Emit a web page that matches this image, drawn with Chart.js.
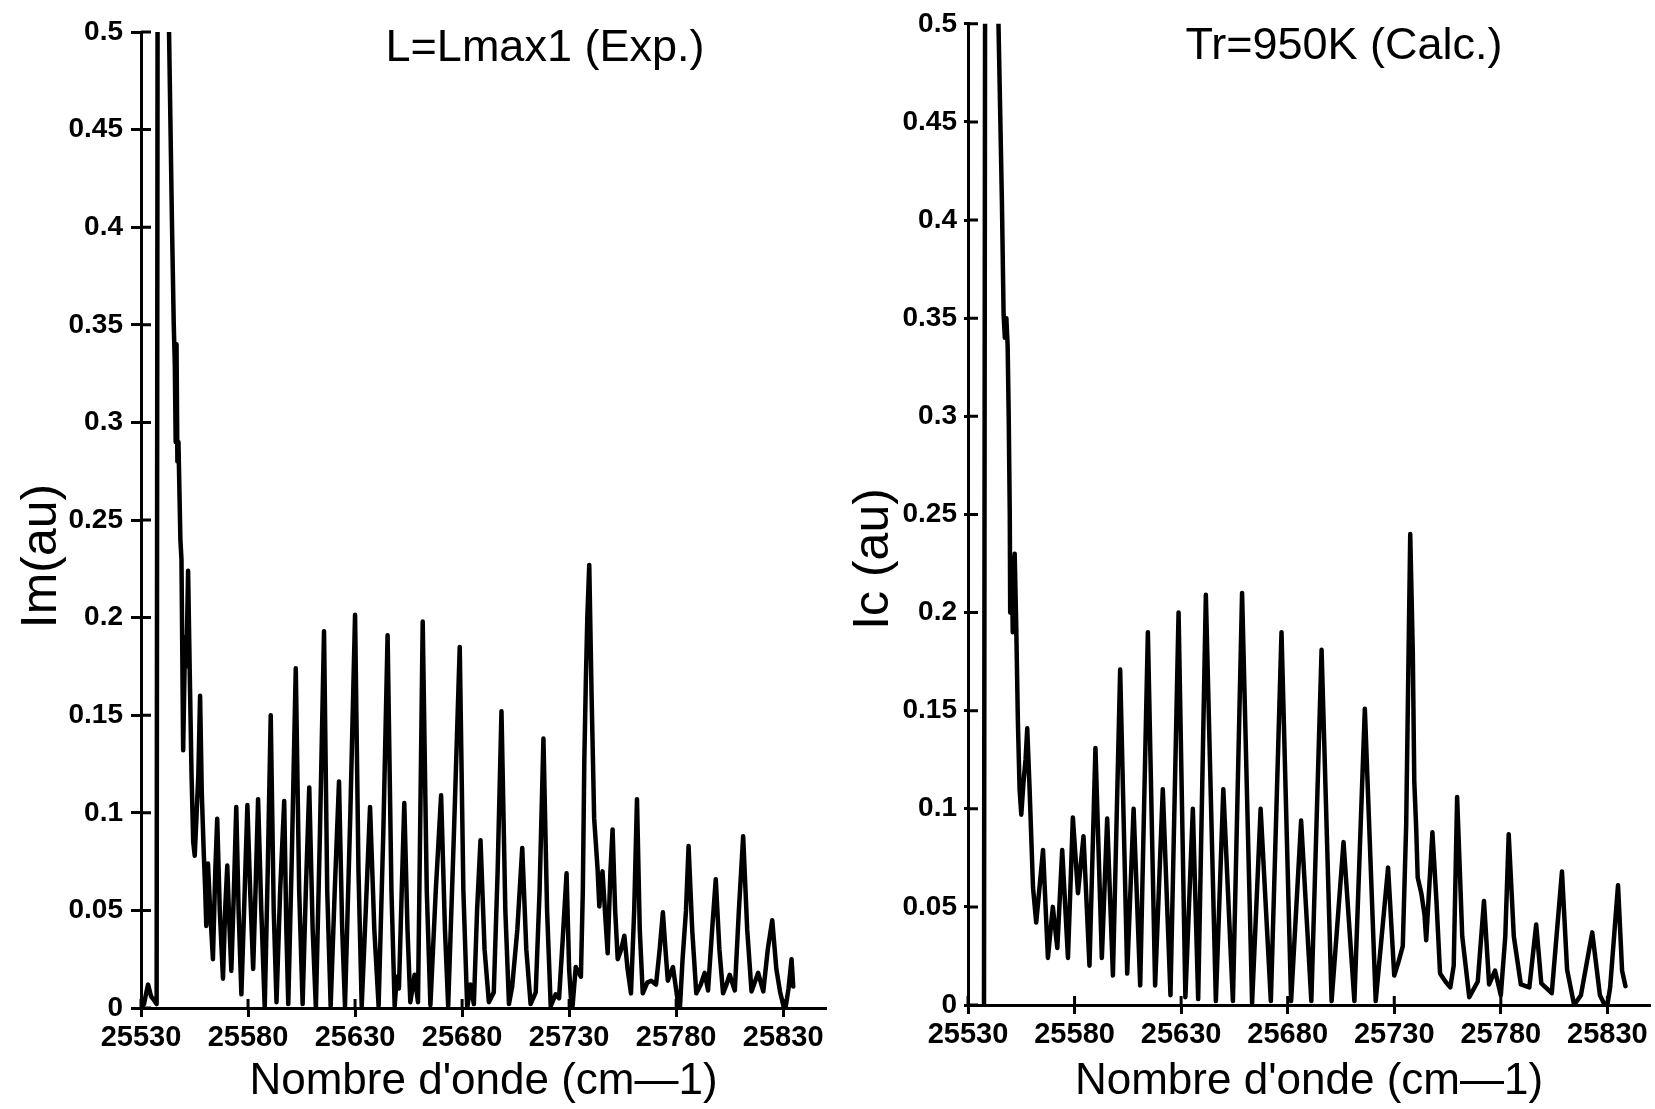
<!DOCTYPE html>
<html>
<head>
<meta charset="utf-8">
<script src="https://cdn.jsdelivr.net/npm/chart.js@4.4.1/dist/chart.umd.min.js"></script>
<style>
  html, body { margin: 0; padding: 0; background: #fff; }
  #wrap { position: relative; width: 1655px; height: 1109px; }
  canvas { position: absolute; top: 0; }
  #left { left: 0; }
  #right { left: 830px; }
</style>
</head>
<body>
<div id="wrap">
  <canvas id="left" width="830" height="1109"></canvas>
  <canvas id="right" width="825" height="1109"></canvas>
</div>
<script>
// tick values
const waveTicks = [25530, 25580, 25630, 25680, 25730, 25780, 25830];
const intensTicks = [0, 0.05, 0.1, 0.15, 0.2, 0.25, 0.3, 0.35, 0.4, 0.45, 0.5];

// L=Lmax1 (Exp.) - wavenumber (cm-1) and intensity Im (au)
const waveExp = [
  25530.0, 25531.4, 25532.5, 25533.3, 25534.7, 25536.1, 25537.3, 25538.0, 25542.6, 25543.1,
  25544.5, 25545.3, 25545.8, 25546.2, 25546.6, 25547.0, 25547.5, 25548.4, 25548.9, 25549.7,
  25550.6, 25551.2, 25552.0, 25552.8, 25553.6, 25554.4, 25555.1, 25556.0, 25556.8, 25557.6,
  25558.4, 25559.3, 25560.0, 25560.5, 25561.3, 25562.3, 25563.6, 25564.7, 25565.6, 25566.8,
  25568.3, 25569.3, 25570.3, 25571.2, 25572.2, 25573.4, 25574.5, 25575.6, 25576.9, 25578.3,
  25579.7, 25581.0, 25582.4, 25583.5, 25584.7, 25586.2, 25587.8, 25589.2, 25590.6, 25592.0,
  25593.3, 25595.0, 25596.9, 25597.9, 25598.8, 25600.5, 25602.3, 25603.9, 25605.5, 25607.0,
  25608.6, 25610.2, 25611.7, 25613.6, 25615.5, 25617.0, 25618.6, 25620.5, 25622.5, 25624.0,
  25625.3, 25627.8, 25630.0, 25631.6, 25633.1, 25635.0, 25637.0, 25639.0, 25641.0, 25643.2,
  25645.2, 25647.0, 25648.5, 25649.5, 25650.5, 25651.8, 25653.0, 25654.5, 25655.8, 25657.8,
  25659.4, 25660.5, 25661.6, 25663.5, 25665.2, 25667.7, 25670.2, 25672.0, 25673.5, 25676.2,
  25678.9, 25680.6, 25682.4, 25683.9, 25685.5, 25687.0, 25688.6, 25690.5, 25692.5, 25694.8,
  25696.6, 25698.4, 25700.2, 25701.9, 25703.4, 25705.8, 25708.1, 25710.0, 25712.0, 25714.4,
  25716.2, 25718.0, 25719.7, 25721.4, 25723.7, 25725.3, 25727.0, 25728.8, 25730.0, 25731.3,
  25733.1, 25735.5, 25736.4, 25737.1, 25737.8, 25738.5, 25739.4, 25740.5, 25741.7, 25743.3,
  25744.1, 25745.0, 25745.6, 25747.0, 25748.0, 25749.3, 25750.3, 25751.5, 25752.7, 25754.3,
  25755.8, 25757.3, 25758.9, 25760.4, 25761.7, 25763.0, 25764.4, 25766.5, 25768.3, 25770.6,
  25772.3, 25773.8, 25775.0, 25776.1, 25778.5, 25781.6, 25783.0, 25784.6, 25785.8, 25787.5,
  25789.4, 25791.5, 25793.3, 25794.9, 25796.8, 25798.5, 25800.2, 25801.9, 25803.5, 25805.0,
  25807.4, 25809.3, 25811.3, 25813.2, 25815.2, 25818.3, 25820.7, 25822.8, 25824.9, 25826.8,
  25828.5, 25830.8, 25832.5, 25833.9, 25834.7
];
const intensExp = [
  0.0, 0.002, 0.008, 0.012, 0.006, 0.004, 0.002, 0.8, 0.8, 0.5,
  0.40, 0.35, 0.33, 0.29, 0.34, 0.28, 0.29, 0.24, 0.23, 0.132,
  0.19, 0.175, 0.224, 0.17, 0.12, 0.085, 0.078, 0.10, 0.12, 0.16,
  0.11, 0.08, 0.06, 0.042, 0.074, 0.05, 0.025, 0.07, 0.097, 0.05,
  0.015, 0.05, 0.073, 0.045, 0.019, 0.06, 0.103, 0.05, 0.007, 0.055,
  0.104, 0.06, 0.02, 0.06, 0.107, 0.05, 0.0, 0.07, 0.15, 0.05,
  0.003, 0.06, 0.106, 0.04, 0.002, 0.08, 0.174, 0.06, 0.002, 0.06,
  0.113, 0.04, 0.0, 0.09, 0.193, 0.06, 0.001, 0.06, 0.116, 0.04,
  0.001, 0.1, 0.2015, 0.07, 0.001, 0.05, 0.103, 0.04, 0.001, 0.09,
  0.191, 0.06, 0.001, 0.016, 0.01, 0.06, 0.105, 0.04, 0.003, 0.017,
  0.003, 0.1, 0.198, 0.06, 0.0015, 0.06, 0.109, 0.04, 0.001, 0.09,
  0.185, 0.06, 0.0, 0.012, 0.002, 0.05, 0.086, 0.03, 0.003, 0.008,
  0.07, 0.152, 0.05, 0.002, 0.011, 0.04, 0.082, 0.03, 0.002, 0.008,
  0.06, 0.138, 0.05, 0.001, 0.007, 0.005, 0.035, 0.069, 0.02, -0.003,
  0.021, 0.016, 0.06, 0.127, 0.167, 0.2, 0.227, 0.16, 0.097, 0.071,
  0.052, 0.065, 0.07, 0.045, 0.028, 0.07, 0.0915, 0.05, 0.025, 0.03,
  0.037, 0.02, 0.0075, 0.05, 0.107, 0.04, 0.0075, 0.013, 0.014, 0.012,
  0.03, 0.049, 0.03, 0.014, 0.021, -0.003, 0.025, 0.05, 0.083, 0.04,
  0.0075, 0.012, 0.018, 0.009, 0.04, 0.066, 0.03, 0.0075, 0.012, 0.017,
  0.009, 0.05, 0.088, 0.04, 0.0085, 0.018, 0.0085, 0.03, 0.045, 0.02,
  0.0085, -0.002, 0.01, 0.025, 0.011
];

// Tr=950K (Calc.) - wavenumber (cm-1) and intensity Ic (au)
const waveCalc = [
  25537.5, 25538.3, 25543.2, 25544.3, 25545.9, 25546.7, 25547.3, 25548.0, 25548.6, 25549.1,
  25549.6, 25549.8, 25550.5, 25551.0, 25551.9, 25552.6, 25553.4, 25554.2, 25555.0, 25556.0,
  25557.0, 25557.8, 25558.9, 25560.5, 25562.0, 25563.0, 25565.2, 25567.5, 25569.8, 25571.9,
  25574.2, 25576.9, 25579.2, 25581.6, 25584.2, 25587.0, 25589.8, 25592.8, 25595.3, 25598.0,
  25601.4, 25604.7, 25607.7, 25610.8, 25614.4, 25617.8, 25621.4, 25625.0, 25628.8, 25632.0,
  25635.5, 25638.0, 25641.6, 25646.3, 25649.8, 25654.3, 25658.6, 25663.3, 25667.3, 25672.1,
  25677.1, 25681.6, 25686.3, 25691.1, 25695.9, 25700.6, 25706.2, 25711.3, 25716.2, 25721.3,
  25727.1, 25730.0, 25732.0, 25734.0, 25735.6, 25737.5, 25738.7, 25739.4, 25740.3, 25741.0,
  25742.7, 25744.2, 25745.0, 25747.9, 25749.8, 25751.5, 25754.0, 25756.3, 25757.9, 25759.5,
  25761.9, 25765.2, 25769.2, 25772.1, 25774.5, 25777.3, 25780.0, 25782.1, 25783.7, 25786.1,
  25789.4, 25793.4, 25796.6, 25799.0, 25803.9, 25808.7, 25811.1, 25814.4, 25817.6, 25822.9,
  25826.5, 25829.7, 25831.3, 25835.0, 25836.9, 25838.5
];
const intensCalc = [
  0.0, 0.8, 0.8, 0.5, 0.41, 0.352, 0.34, 0.35, 0.336, 0.30,
  0.25, 0.2, 0.228, 0.19, 0.23, 0.195, 0.145, 0.11, 0.097, 0.113,
  0.125, 0.141, 0.11, 0.06, 0.042, 0.0535, 0.079, 0.024, 0.05, 0.029,
  0.079, 0.024, 0.0956, 0.057, 0.086, 0.02, 0.131, 0.024, 0.095, 0.015,
  0.171, 0.016, 0.1, 0.01, 0.19, 0.01, 0.11, 0.005, 0.2, 0.004,
  0.1, 0.003, 0.209, 0.002, 0.11, 0.002, 0.21, 0.001, 0.1, 0.002,
  0.19, 0.002, 0.094, 0.002, 0.181, 0.002, 0.083, 0.002, 0.151, 0.002,
  0.07, 0.015, 0.022, 0.03, 0.092, 0.24, 0.18, 0.114, 0.09, 0.065,
  0.057, 0.046, 0.033, 0.088, 0.053, 0.016, 0.012, 0.009, 0.02, 0.106,
  0.035, 0.004, 0.012, 0.053, 0.0105, 0.0175, 0.005, 0.035, 0.087, 0.035,
  0.0105, 0.009, 0.041, 0.011, 0.006, 0.068, 0.018, 0.0, 0.005, 0.037,
  0.005, -0.002, 0.009, 0.061, 0.0175, 0.0096
];

const FONT = 'Liberation Sans';

function innerTicks(lenX, lenY) {
  return {
    id: 'innerTicks',
    afterDraw(chart) {
      const {ctx, chartArea: a, scales: {x, y}} = chart;
      ctx.save();
      ctx.strokeStyle = '#000';
      ctx.lineWidth = 3;
      ctx.beginPath();
      x.ticks.forEach(t => {
        const px = x.getPixelForValue(t.value);
        ctx.moveTo(px, a.bottom);
        ctx.lineTo(px, a.bottom - lenX);
      });
      y.ticks.forEach(t => {
        const py = y.getPixelForValue(t.value);
        ctx.moveTo(a.left, py);
        ctx.lineTo(a.left + lenY, py);
      });
      ctx.stroke();
      ctx.restore();
    }
  };
}

function freeText(items) {
  return {
    id: 'freeText',
    afterDraw(chart) {
      const ctx = chart.ctx;
      items.forEach(it => {
        ctx.save();
        ctx.translate(it.x, it.y);
        ctx.rotate(it.rot || 0);
        ctx.font = it.font;
        ctx.fillStyle = '#000';
        ctx.textAlign = 'center';
        ctx.textBaseline = 'middle';
        ctx.fillText(it.text, 0, 0);
        ctx.restore();
      });
    }
  };
}

function makeChart(id, xs, ys, g) {
  return new Chart(document.getElementById(id), {
    type: 'scatter',
    data: {
      datasets: [{
        data: xs.map((x, i) => ({x: x, y: ys[i]})),
        showLine: true,
        borderColor: '#000',
        borderWidth: 4.5,
        borderJoinStyle: 'round',
        borderCapStyle: 'round',
        pointRadius: 0,
        tension: 0
      }]
    },
    options: {
      responsive: false,
      animation: false,
      events: [],
      layout: { padding: { top: g.top, right: g.right, left: 0, bottom: 0 } },
      plugins: { legend: { display: false }, tooltip: { enabled: false } },
      scales: {
        x: {
          type: 'linear',
          min: 25530,
          max: 25850,
          afterBuildTicks: s => { s.ticks = waveTicks.map(v => ({value: v})); },
          afterFit: s => { s.height = g.xh; },
          border: { display: true, color: '#000', width: 3 },
          grid: { display: true, drawOnChartArea: false, drawTicks: true, tickLength: 9, tickWidth: 3, tickColor: '#000' },
          ticks: {
            color: '#000',
            font: { family: FONT, size: 29, weight: 'bold' },
            padding: 4,
            maxRotation: 0,
            autoSkip: false,
            callback: v => String(v)
          },
          title: {
            display: true,
            text: "Nombre d'onde (cm—1)",
            color: '#000',
            font: { family: FONT, size: 44, lineHeight: 1 },
            padding: { top: 0, bottom: 5 }
          }
        },
        y: {
          type: 'linear',
          min: 0,
          max: 0.5,
          afterBuildTicks: s => { s.ticks = intensTicks.map(v => ({value: v})); },
          afterFit: s => { s.width = g.yw; },
          border: { display: true, color: '#000', width: 3 },
          grid: { display: true, drawOnChartArea: false, drawTicks: true, tickLength: g.ytl, tickWidth: 3, tickColor: '#000' },
          ticks: {
            color: '#000',
            font: { family: FONT, size: 28, weight: 'bold' },
            padding: g.ypad,
            callback: v => String(+v.toFixed(2))
          }
        }
      }
    },
    plugins: [innerTicks(9, 10), freeText(g.texts)]
  });
}

makeChart('left', waveExp, intensExp, {
  top: 32, right: 4, xh: 101, yw: 141, ytl: 10, ypad: 8,
  texts: [
    { text: 'L=Lmax1 (Exp.)', x: 545, y: 49, font: '45px "' + FONT + '"' },
    { text: 'Im(au)', x: 42, y: 556, rot: -Math.PI / 2, font: '50px "' + FONT + '"' }
  ]
});

makeChart('right', waveCalc, intensCalc, {
  top: 23, right: 5, xh: 104, yw: 138, ytl: 4, ypad: 7,
  texts: [
    { text: 'Tr=950K (Calc.)', x: 514, y: 47, font: '45px "' + FONT + '"' },
    { text: 'Ic (au)', x: 44, y: 559, rot: -Math.PI / 2, font: '50px "' + FONT + '"' }
  ]
});
</script>
</body>
</html>
